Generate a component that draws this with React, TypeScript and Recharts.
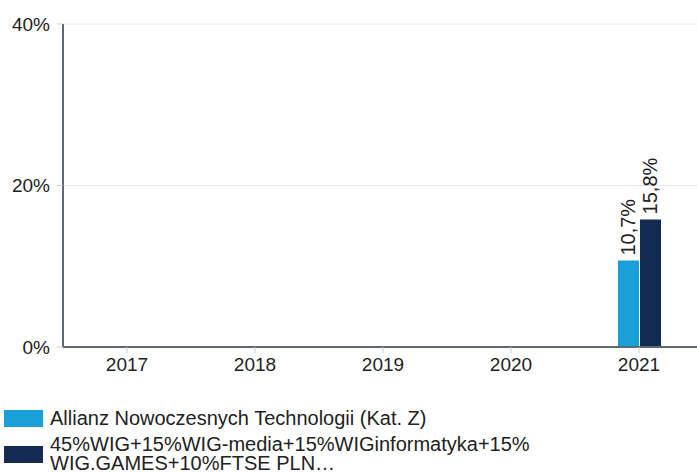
import React from 'react'
import { BarChart, Bar, XAxis, YAxis, CartesianGrid, LabelList } from 'recharts'

const years = ['2017', '2018', '2019', '2020', '2021']
const fundValues: (number | null)[] = [null, null, null, null, 10.7]
const benchValues: (number | null)[] = [null, null, null, null, 15.8]
const yTicks = [0, 20, 40]

const fundName = 'Allianz Nowoczesnych Technologii (Kat. Z)'
const benchName = '45%WIG+15%WIG-media+15%WIGinformatyka+15% WIG.GAMES+10%FTSE PLN…'

const data = years.map((year, i) => ({ year, fund: fundValues[i], bench: benchValues[i] }))

const FONT = '"Liberation Sans", Arial, sans-serif'

const fmt = (v: number) => v.toFixed(1).replace('.', ',') + '%'

const RotatedLabel = (props: any) => {
  const { x, y, width, value } = props
  if (value == null) return null
  const cx = x + width / 2
  const ty = y - 5
  return (
    <text
      x={cx}
      y={ty}
      transform={`rotate(-90, ${cx}, ${ty})`}
      textAnchor='start'
      dominantBaseline='central'
      fontSize={20}
      fontFamily={FONT}
      fill='#222'
    >
      {fmt(value)}
    </text>
  )
}

export default function App() {
  return (
    <div
      style={{
        position: 'absolute',
        left: 0,
        top: 0,
        width: 697,
        height: 473,
        background: '#fff',
        fontFamily: FONT,
        overflow: 'hidden',
      }}
    >
      <BarChart
        width={703}
        height={390}
        data={data}
        margin={{ top: 24, right: 0, left: 0, bottom: 0 }}
        barSize={21}
        barGap={1}
      >
        <CartesianGrid vertical={false} stroke='#e8e8e8' />
        <XAxis
          dataKey='year'
          height={43}
          tick={{ fill: '#222', fontSize: 19, fontFamily: FONT }}
          tickLine={{ stroke: '#ccc' }}
          axisLine={{ stroke: '#5d6873', strokeWidth: 2 }}
          tickMargin={5}
        />
        <YAxis
          width={63}
          domain={[0, 40]}
          ticks={yTicks}
          tickFormatter={(v: number) => `${v}%`}
          tick={{ fill: '#222', fontSize: 19, fontFamily: FONT }}
          tickLine={{ stroke: '#ccc' }}
          axisLine={{ stroke: '#5d6873', strokeWidth: 2 }}
          tickMargin={7}
        />
        <Bar dataKey='fund' name={fundName} fill='#19a0d8' isAnimationActive={false}>
          <LabelList dataKey='fund' content={RotatedLabel} />
        </Bar>
        <Bar dataKey='bench' name={benchName} fill='#142b53' isAnimationActive={false}>
          <LabelList dataKey='bench' content={RotatedLabel} />
        </Bar>
      </BarChart>
      <div style={{ position: 'absolute', left: 4, top: 409, fontSize: 20, color: '#222', lineHeight: '19px' }}>
        <div style={{ display: 'flex', alignItems: 'center' }}>
          <span style={{ width: 39, height: 17, background: '#19a0d8', marginRight: 7, flexShrink: 0 }} />
          <span>{fundName}</span>
        </div>
        <div style={{ display: 'flex', alignItems: 'center', marginTop: 7 }}>
          <span style={{ width: 39, height: 17, background: '#142b53', marginRight: 7, flexShrink: 0 }} />
          <span style={{ width: 480 }}>{benchName}</span>
        </div>
      </div>
    </div>
  )
}
